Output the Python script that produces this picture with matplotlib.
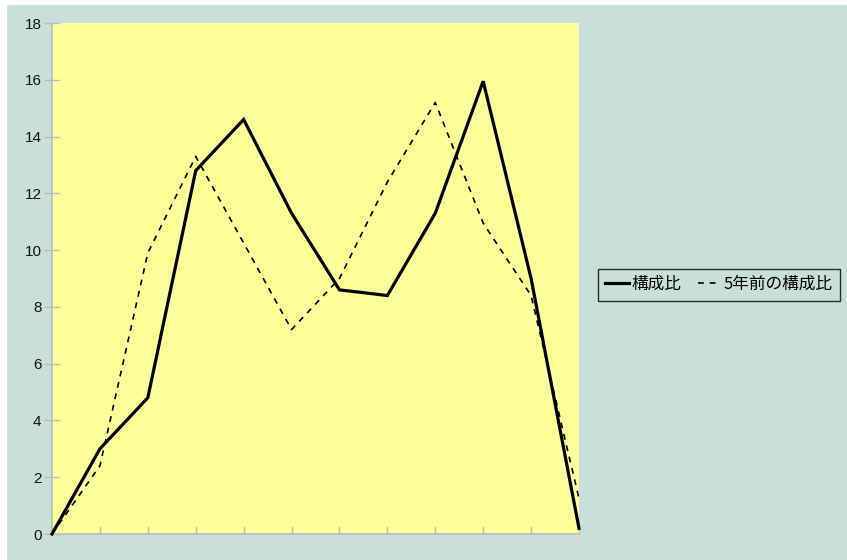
import matplotlib
matplotlib.use("Agg")
import matplotlib.pyplot as plt
from matplotlib.patches import Rectangle

plt.rcParams['font.family'] = ['Noto Sans CJK JP', 'DejaVu Sans']

categories = list(range(12))
series_now = [0.0, 3.0, 4.8, 12.8, 14.6, 11.3, 8.6, 8.4, 11.3, 15.95, 9.0, 0.2]
series_5y = [0.0, 2.4, 9.9, 13.3, 10.25, 7.2, 9.0, 12.4, 15.2, 10.95, 8.4, 1.25]
label_now = "構成比"
label_5y = "5年前の構成比"
yticks = [0, 2, 4, 6, 8, 10, 12, 14, 16, 18]

bg = "#C9E0DA"
plot_bg = "#FFFF99"
grey = "#BBBBBB"

fig = plt.figure(figsize=(8.47, 5.6), dpi=100)
fig.patch.set_facecolor("white")
fig.patches.append(Rectangle((7/847, 0), 1, 1 - 5/560, transform=fig.transFigure,
                             facecolor=bg, edgecolor="none", zorder=-10))

ax = fig.add_axes([52/847, 1 - 534/560, (579 - 52)/847, (534 - 23)/560])
ax.set_facecolor(plot_bg)

ax.plot(categories, series_now, color="black", lw=2.3, label=label_now,
        solid_joinstyle="miter", clip_on=False, zorder=3)
ax.plot(categories, series_5y, color="black", lw=1.2, ls=(0, (3.5, 3.5)),
        label=label_5y, clip_on=False, zorder=2)

ax.set_xlim(0, 11)
ax.set_ylim(0, 18)
ax.set_yticks(yticks)
ax.set_yticklabels([str(v) for v in yticks], family=["Liberation Sans", "DejaVu Sans"],
                   fontsize=11, color="#111111")
ax.set_xticks(categories)
ax.set_xticklabels([])
ax.tick_params(axis="y", direction="inout", length=11, color=grey,
               pad=2, width=1)
ax.tick_params(axis="x", direction="in", length=6, color=grey, width=1)
for s in ["top", "right"]:
    ax.spines[s].set_visible(False)
for s in ["left", "bottom"]:
    ax.spines[s].set_color(grey)
    ax.spines[s].set_linewidth(1.2)

leg = fig.legend(loc="center", bbox_to_anchor=((597 + 841) / 2 / 847, 1 - 284.5 / 560),
                 ncol=2, fontsize=12, frameon=True, fancybox=False,
                 handlelength=1.4, handletextpad=0.15, columnspacing=1.0,
                 borderpad=0.45, borderaxespad=0)
leg.get_frame().set_edgecolor("black")
leg.get_frame().set_facecolor(bg)
leg.get_frame().set_linewidth(1.0)

fig.savefig("out.png", dpi=100, facecolor=fig.get_facecolor())
